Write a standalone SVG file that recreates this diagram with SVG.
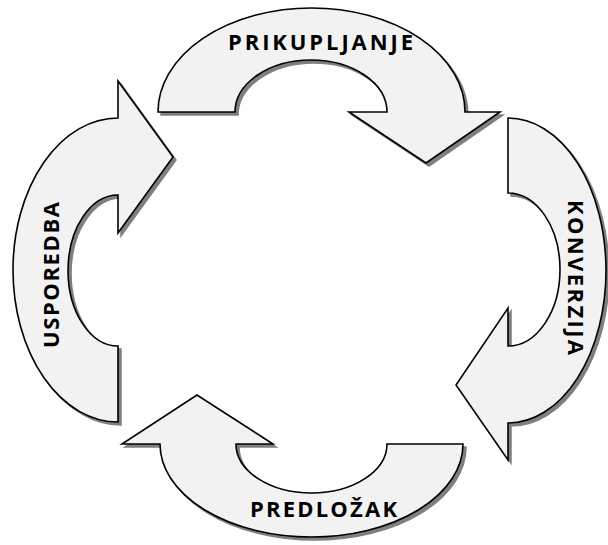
<svg xmlns="http://www.w3.org/2000/svg" xmlns:xlink="http://www.w3.org/1999/xlink" width="608" height="545" viewBox="0 0 608 545">
<style>
.shadow{fill:#7f7f7f;stroke:#7f7f7f;stroke-width:1.5}
.arrow{fill:#f2f2f2;stroke:#000;stroke-width:1.6;stroke-linejoin:miter}
.lbl{font-family:"Open Sans","Liberation Sans",sans-serif;font-weight:bold;font-size:22px;fill:#000}
</style>
<defs>
<path id="pTop" d="M 158,112 A 153.5,104 0 0 1 465,112 L 500,112 L 426,163 L 349,112 L 387,112 A 76,52 0 0 0 235,112 Z"/>
<path id="pRight" d="M 508,118 A 98,152.5 0 0 1 508,423 L 508,460 L 456,385 L 508,308 L 508,346 A 52,76.5 0 0 0 508,193 Z"/>
<path id="pBottom" d="M 463,444 A 151.5,93 0 0 1 160,444 L 122,444 L 197,395 L 273,444 L 236,444 A 75.5,49 0 0 0 387,444 Z"/>
<path id="pLeft" d="M 118,422 A 105,152 0 0 1 118,118 L 118,81 L 173,157 L 118,233 L 118,195 A 50,75.5 0 0 0 118,346 Z"/>
</defs>
<rect width="608" height="545" fill="#fff"/>
<g id="prikupljanje">
<use xlink:href="#pTop" class="shadow" transform="translate(3,3)"/>
<use xlink:href="#pTop" class="arrow"/>
<text class="lbl" x="228" y="50" textLength="185" lengthAdjust="spacing">PRIKUPLJANJE</text>
</g>
<g id="konverzija">
<use xlink:href="#pRight" class="shadow" transform="translate(3,3)"/>
<use xlink:href="#pRight" class="arrow"/>
<text class="lbl" transform="translate(568,200) rotate(90)" x="0" y="0" textLength="155" lengthAdjust="spacing">KONVERZIJA</text>
</g>
<g id="predlozak">
<use xlink:href="#pBottom" class="shadow" transform="translate(3,3)"/>
<use xlink:href="#pBottom" class="arrow"/>
<text class="lbl" x="250" y="517" textLength="147" lengthAdjust="spacing">PREDLOŽAK</text>
</g>
<g id="usporedba">
<use xlink:href="#pLeft" class="shadow" transform="translate(3,3)"/>
<use xlink:href="#pLeft" class="arrow"/>
<text class="lbl" transform="translate(59,348) rotate(-90)" x="0" y="0" textLength="146" lengthAdjust="spacing">USPOREDBA</text>
</g>
<g id="connectors"/>
</svg>
